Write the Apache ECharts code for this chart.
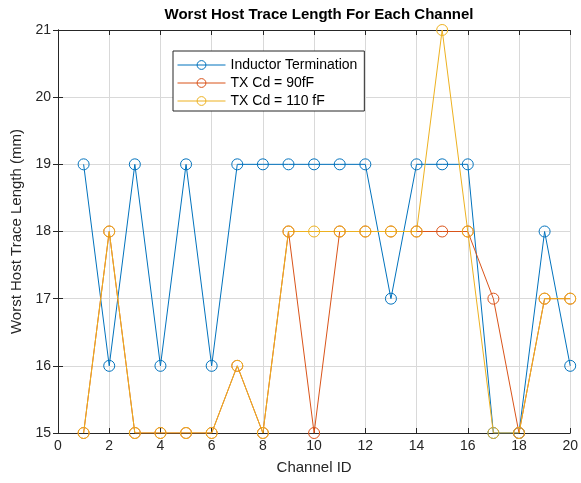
<!DOCTYPE html>
<html><head><meta charset="utf-8">
<script src="https://cdn.jsdelivr.net/npm/echarts@6/dist/echarts.min.js"></script>
<style>html,body{margin:0;padding:0;background:#fff}#c{width:581px;height:483px}</style>
</head><body><div id="c"></div>
<script>
const channels = [1,2,3,4,5,6,7,8,9,10,11,12,13,14,15,16,17,18,19,20];
const inductorTermination = [19,16,19,16,19,16,19,19,19,19,19,19,17,19,19,19,15,15,18,16];
const txCd90 = [15,18,15,15,15,15,16,15,18,15,18,18,18,18,18,18,17,15,17,17];
const txCd110 = [15,18,15,15,15,15,16,15,18,18,18,18,18,18,21,18,15,15,17,17];
const seriesNames = ['Inductor Termination','TX Cd = 90fF','TX Cd = 110 fF'];
const colors = ['#0072BD','#D95319','#EDB120'];

const font = "'Liberation Sans', Arial, Helvetica, sans-serif";
const chart = echarts.init(document.getElementById('c'), null, {renderer:'canvas'});
function pairs(vals){ return channels.map((c,i)=>[c, vals[i]]); }
function mk(name, vals, color){
  return {name, type:'line', data: pairs(vals), symbol:'circle', symbolSize:11,
    itemStyle:{color:'rgba(0,0,0,0)', borderColor:color, borderWidth:1}, lineStyle:{color, width:1},
    emphasis:{disabled:true}, animation:false};
}
const axisLine = {show:true, lineStyle:{color:'#262626', width:1}};
chart.setOption({
  animation:false,
  title:{text:'Worst Host Trace Length For Each Channel', left:314, textAlign:'center', top:2,
    textStyle:{fontFamily:font, fontSize:15, fontWeight:'bold', color:'#000'}},
  grid:{left:58, right:10, top:30, bottom:50, containLabel:false},
  legend:{orient:'vertical', left:173, top:51, data:seriesNames, itemWidth:48, itemHeight:11, itemGap:4,
    padding:[7,7,3,4], borderColor:'#262626', borderWidth:1, backgroundColor:'#fff',
    lineStyle:{width:1}, itemStyle:{borderWidth:1},
    textStyle:{fontFamily:font, fontSize:14, color:'#000'}},
  xAxis:[{type:'value', min:0, max:20, interval:2, name:'Channel ID', nameLocation:'middle', nameGap:27,
    nameTextStyle:{fontFamily:font, fontSize:15, color:'#262626'},
    axisLine, axisTick:{show:true, inside:true, length:5, lineStyle:{color:'#262626'}},
    axisLabel:{fontFamily:font, fontSize:14, color:'#262626', margin:6},
    splitLine:{show:true, lineStyle:{color:'#d9d9d9', width:1}}},
   {type:'value', position:'top', min:0, max:20, interval:2, axisLine,
    axisTick:{show:true, inside:true, length:5, lineStyle:{color:'#262626'}}, axisLabel:{show:false}, splitLine:{show:false}}],
  yAxis:[{type:'value', min:15, max:21, interval:1, name:'Worst Host Trace Length (mm)', nameLocation:'middle', nameGap:25,
    nameTextStyle:{fontFamily:font, fontSize:15, color:'#262626'},
    axisLine, axisTick:{show:true, inside:true, length:5, lineStyle:{color:'#262626'}},
    axisLabel:{fontFamily:font, fontSize:14, color:'#262626', margin:7},
    splitLine:{show:true, lineStyle:{color:'#d9d9d9', width:1}}},
   {type:'value', position:'right', min:15, max:21, interval:1, axisLine,
    axisTick:{show:true, inside:true, length:5, lineStyle:{color:'#262626'}}, axisLabel:{show:false}, splitLine:{show:false}}],
  series:[mk(seriesNames[0], inductorTermination, colors[0]), mk(seriesNames[1], txCd90, colors[1]), mk(seriesNames[2], txCd110, colors[2])]
});
</script></body></html>
